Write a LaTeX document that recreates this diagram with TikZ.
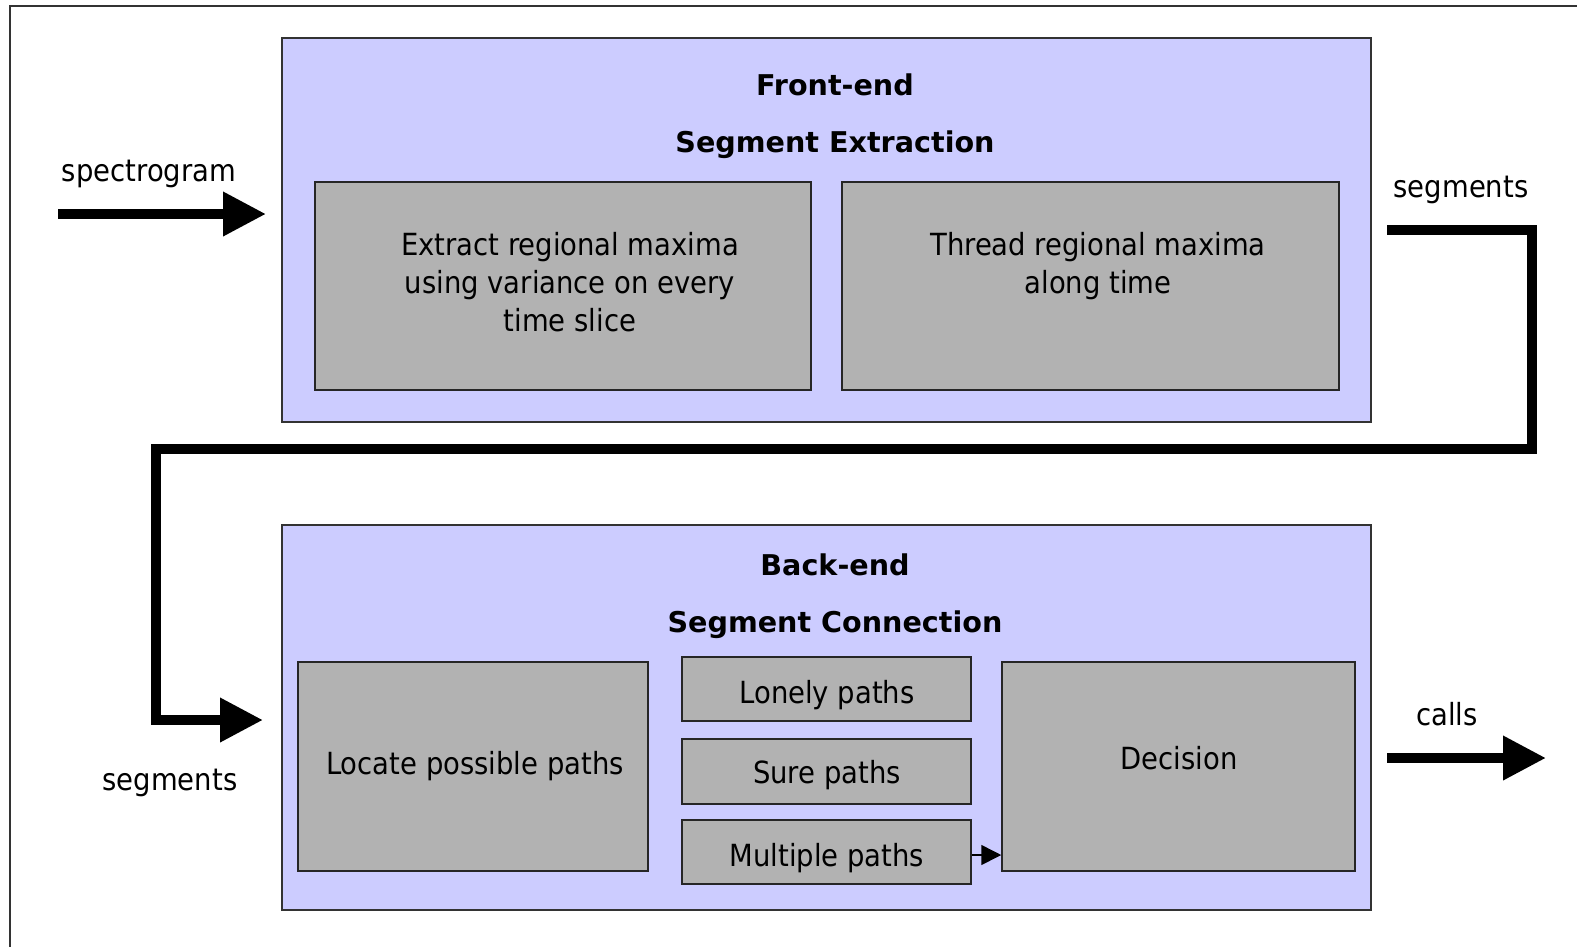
\documentclass[tikz,border=0pt]{standalone}
\usepackage{fontspec}
\setmainfont{DejaVu Sans Condensed}
\newfontfamily\widefont{DejaVu Sans}
\usetikzlibrary{arrows.meta}
\definecolor{lav}{HTML}{CCCCFF}
\definecolor{grayb}{HTML}{B2B2B2}
\begin{document}
\begin{tikzpicture}[x=1pt,y=-1pt,
  group/.style={draw=black!80,line width=1.5pt,fill=lav},
  block/.style={draw=black!85,line width=1.5pt,fill=grayb},
  txt/.style={font=\fontsize{30.5}{38}\selectfont,align=center,inner sep=0pt},
  title/.style={font=\widefont\fontsize{28.6}{38}\selectfont\bfseries,inner sep=0pt},
  bigarrow/.style={line width=10pt,-{Triangle[length=43pt,width=42pt]}},
  bigline/.style={line width=10pt,line join=miter}]
\useasboundingbox (0,0) rectangle (1577,946);
\fill[white] (0,0) rectangle (1577,946);
\draw[line width=2pt,black!80] (10,960) -- (10,6) -- (1590,6);

% front end
\draw[group] (282,38) rectangle (1371,422);
\node[title] (fe1) at (835,85) {Front-end};
\node[title] (fe2) at (835,145) {Segment Extraction};
\draw[block] (315,182) rectangle (811,390);
\draw[block] (842,182) rectangle (1339,390);
\node[txt,anchor=north] (ex) at (570,232) {Extract regional maxima\\using variance on every\\time slice};
\node[txt,anchor=north] (th) at (1098,232) {Thread regional maxima\\along time};

% back end
\draw[group] (282,525) rectangle (1371,910);
\node[title] (be1) at (835,565) {Back-end};
\node[title] (be2) at (835,625) {Segment Connection};
\node[block,minimum width=350pt,minimum height=209pt] (loc) at (473,766.5) {};
\node[txt] at (475,766) {Locate possible paths};
\node[block,minimum width=289pt,minimum height=64pt] (lon) at (826.5,689) {};
\node[txt] at (827,695) {Lonely paths};
\node[block,minimum width=289pt,minimum height=65pt] (sur) at (826.5,771.5) {};
\node[txt] at (827,775) {Sure paths};
\node[block,minimum width=289pt,minimum height=64pt] (mul) at (826.5,852) {};
\node[txt] at (827,858) {Multiple paths};
\node[block,minimum width=353pt,minimum height=209pt] (dec) at (1178.5,766.5) {};
\node[txt] at (1179,758) {Decision};
\draw[line width=1.5pt,-{Triangle[length=20pt,width=20pt]}] (mul.east |- 0,855) -- (dec.west |- 0,855);

% labels
\node[txt] (lspec) at (149,174) {spectrogram};
\node[txt] (lseg1) at (1461,190) {segments};
\node[txt] (lseg2) at (170,783) {segments};
\node[txt] (lcalls) at (1447,714) {calls};

% arrows
\coordinate (s0) at (58,214);
\coordinate (s1) at (266,214);
\draw[bigarrow] (s0) -- (s1);
\coordinate (g0) at (1387,230);
\coordinate (g1) at (1532,230);
\coordinate (g2) at (1532,449);
\coordinate (g3) at (156,449);
\coordinate (g4) at (156,720);
\coordinate (g5) at (263,720);
\draw[bigline] (g0) -- (g1) -- (g2) -- (g3) -- (g4) -- (220,720);
\draw[bigarrow] (200,720) -- (g5);
\coordinate (c0) at (1387,758);
\coordinate (c1) at (1546,758);
\draw[bigarrow] (c0) -- (c1);
\end{tikzpicture}
\end{document}
